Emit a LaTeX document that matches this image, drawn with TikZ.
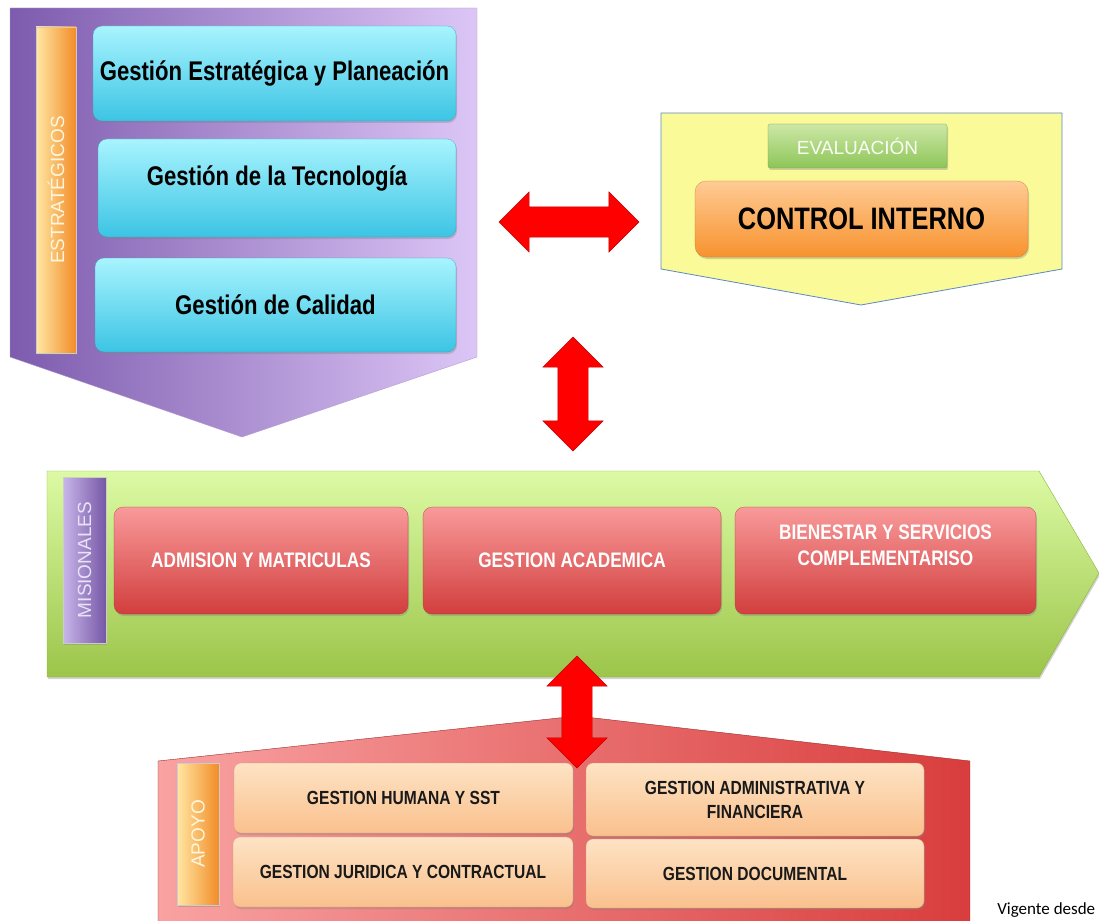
\documentclass[tikz,border=0pt]{standalone}
\usepackage{fontspec}
\setmainfont{Liberation Sans}
\newfontfamily\narrowfont[FakeStretch=0.82]{Liberation Sans}
\newfontfamily\vigfont{Carlito}
\usetikzlibrary{shapes.arrows,shadows,positioning}

\definecolor{purpdk}{HTML}{7D5BAE}
\definecolor{purplt}{HTML}{DCC6F6}
\definecolor{orglt}{HTML}{FFE7A3}
\definecolor{orgdk}{HTML}{F28C28}
\definecolor{cyanlt}{HTML}{A8F4FE}
\definecolor{cyandk}{HTML}{3CC4E4}
\definecolor{yell}{HTML}{FAFA99}
\definecolor{yellbd}{HTML}{5B87C5}
\definecolor{evlt}{HTML}{CDE8A6}
\definecolor{evdk}{HTML}{8DC558}
\definecolor{ctlt}{HTML}{FFCB94}
\definecolor{ctdk}{HTML}{F7922E}
\definecolor{arrred}{HTML}{FF0000}
\definecolor{arrdk}{HTML}{C00000}
\definecolor{grnlt}{HTML}{DCFAA4}
\definecolor{grndk}{HTML}{9CC54A}
\definecolor{grnbd}{HTML}{8CB43C}
\definecolor{mislt}{HTML}{C8B6EA}
\definecolor{misdk}{HTML}{7657A6}
\definecolor{redlt}{HTML}{F99A9A}
\definecolor{reddk}{HTML}{D23E3E}
\definecolor{apolt}{HTML}{F9A2A2}
\definecolor{apodk}{HTML}{D93D3D}
\definecolor{peachlt}{HTML}{FDE3C4}
\definecolor{peachdk}{HTML}{FAC08D}

\begin{document}
\begin{tikzpicture}[x=1pt,y=-1pt,semithick,
                    shdw/.style={drop shadow={shadow xshift=1pt,shadow yshift=-2pt,opacity=0.35}}]
  \tikzstyle{box}=[rounded corners=9pt,shdw,align=center,inner sep=0pt]
  \tikzstyle{cyanbox}=[box,top color=cyanlt,bottom color=cyandk,draw=cyandk!80!black,very thin,
                       font=\narrowfont\bfseries\fontsize{27}{30}\selectfont]
  \tikzstyle{redbox}=[box,top color=redlt,bottom color=reddk,draw=reddk!80!black,very thin,text=white,
                      font=\narrowfont\bfseries\fontsize{21}{26}\selectfont,minimum height=107pt]
  \tikzstyle{peachbox}=[box,rounded corners=7pt,top color=peachlt,bottom color=peachdk,draw=peachdk!80!black,very thin,
                        text=black!90,font=\narrowfont\bfseries\fontsize{19}{24}\selectfont]
  \tikzstyle{bar}=[shdw,inner sep=0pt,draw=white!60!gray,very thin]
  \tikzstyle{barlabel}=[rotate=90,font=\fontsize{19}{22}\selectfont]
  \tikzstyle{bigarrow}=[double arrow,double arrow head extend=15pt,inner sep=15pt,
                        fill=arrred,draw=arrdk,thin]

  \useasboundingbox (0,0) rectangle (1099,920);

  % estrategicos
  \path[left color=purpdk,right color=purplt,draw=purpdk!60!white,thin]
    (10,8) -- (477,8) -- (477,357) -- (242,437) -- (10,357) -- cycle;
  \node[bar,left color=orglt,right color=orgdk,minimum width=40pt,minimum height=326pt] (estbar) at (56,190) {};
  \node[barlabel,text=orglt!40!white] at (estbar) {ESTRATÉGICOS};
  \node[cyanbox,minimum width=363pt,minimum height=95pt] (gep) at (274.5,73.5) {Gestión Estratégica y Planeación};
  \node[cyanbox,minimum width=358pt,minimum height=98pt,text depth=25pt] (gt) at (277,188) {Gestión de la Tecnología};
  \node[cyanbox,minimum width=361pt,minimum height=94pt] (gc) at (275.5,305) {Gestión de Calidad};

  % evaluacion
  \path[fill=yell,draw=yellbd,thick]
    (661,113) -- (1062,113) -- (1062,269) -- (861,305) -- (661,269) -- cycle;
  \node[box,rounded corners=2pt,top color=evlt,bottom color=evdk,draw=evdk!80!black,very thin,
        minimum width=179pt,minimum height=44pt,text=white!90!evlt,
        font=\fontsize{19}{22}\selectfont] (ev) at (857.5,146) {EVALUACIÓN};
  \node[box,rounded corners=11pt,top color=ctlt,bottom color=ctdk,draw=ctdk!80!black,very thin,
        minimum width=333pt,minimum height=76pt,
        font=\narrowfont\bfseries\fontsize{31}{34}\selectfont] (ci) at (861.5,219) {CONTROL INTERNO};

  % misionales
  \path[top color=grnlt,bottom color=grndk,draw=grnbd,thin,shdw]
    (47,471) -- (1039,471) -- (1099,573) -- (1039,677) -- (47,677) -- cycle;
  \node[bar,left color=mislt,right color=misdk,minimum width=43pt,minimum height=166pt] (misbar) at (84.5,560) {};
  \node[barlabel,text=mislt!40!white] at (misbar) {MISIONALES};
  \node[redbox,minimum width=294pt] (adm) at (261,560.5) {ADMISION Y MATRICULAS};
  \node[redbox,minimum width=298pt] (gac) at (572,560.5) {GESTION ACADEMICA};
  \node[redbox,minimum width=301pt,text depth=30pt] (bsc) at (885.5,560.5) {BIENESTAR Y SERVICIOS\\COMPLEMENTARISO};

  % apoyo
  \path[left color=apolt,right color=apodk,draw=apodk!70!black,thin]
    (158,761) -- (577,716) -- (970,761) -- (970,930) -- (158,930) -- cycle;
  \node[bar,left color=orglt,right color=orgdk,minimum width=42pt,minimum height=142pt] (apobar) at (198,834) {};
  \node[barlabel,text=orglt!40!white] at (apobar) {APOYO};
  \node[peachbox,minimum width=339pt,minimum height=70pt] (gh) at (403.5,798) {GESTION HUMANA Y SST};
  \node[peachbox,minimum width=340pt,minimum height=70pt] (gj) at (403,872) {GESTION JURIDICA Y CONTRACTUAL};
  \node[peachbox,minimum width=338pt,minimum height=73pt] (gaf) at (755,799.5) {GESTION ADMINISTRATIVA Y\\FINANCIERA};
  \node[peachbox,minimum width=338pt,minimum height=69pt] (gd) at (755,873.5) {GESTION DOCUMENTAL};

  % flechas
  \node[bigarrow,minimum height=140pt] (arrh) at (569,222) {};
  \node[bigarrow,rotate=90,minimum height=114pt] (arrv) at (573,394) {};
  \node[bigarrow,rotate=90,minimum height=112pt] (arrw) at (577,712) {};

  \node[anchor=base west,inner sep=0pt,font=\vigfont\fontsize{17}{20}\selectfont] (vig) at (997,914) {Vigente desde};
\end{tikzpicture}
\end{document}
